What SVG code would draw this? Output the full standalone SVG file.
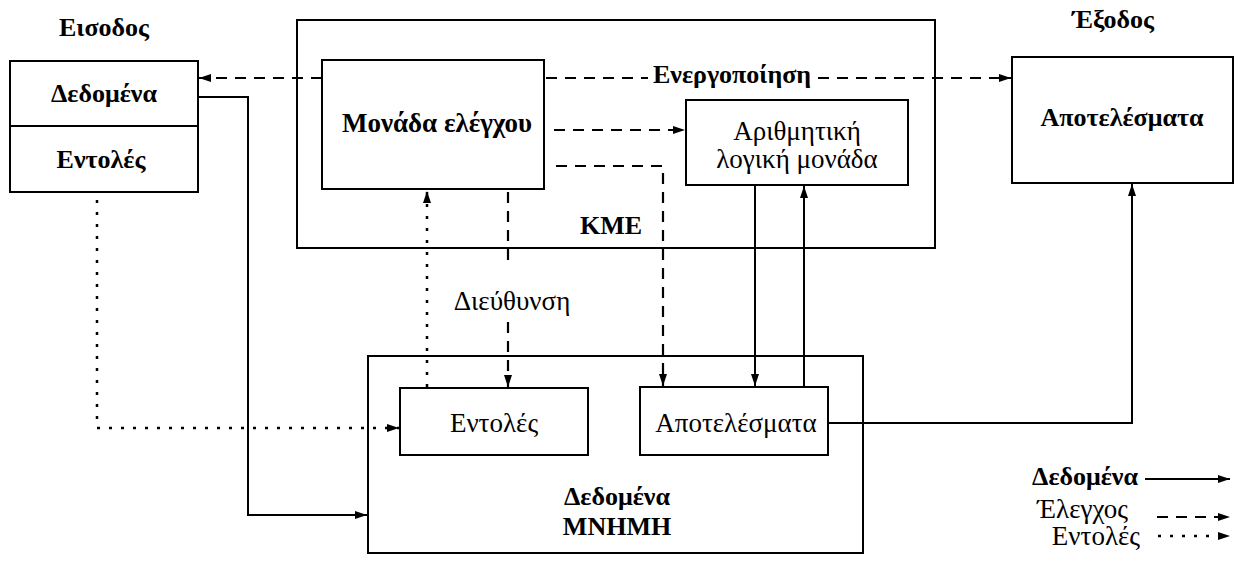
<svg xmlns="http://www.w3.org/2000/svg" width="1239" height="565" viewBox="0 0 1239 565">
<defs>
<marker id="ah" viewBox="0 0 12 8" refX="12" refY="4" markerWidth="12" markerHeight="8" markerUnits="userSpaceOnUse" orient="auto">
<path d="M0,0 L12,4 L0,8 Z" fill="#000"/>
</marker>
</defs>
<style>
.box{fill:#fff;stroke:#000;stroke-width:2}
.t{font-family:"Liberation Serif","DejaVu Serif",serif;font-size:27px;fill:#000;text-anchor:middle}
.b{font-weight:bold;font-size:26px}
.m{font-weight:600}
.solid{fill:none;stroke:#000;stroke-width:2}
.dash{fill:none;stroke:#000;stroke-width:2.2;stroke-dasharray:11 8}
.dot{fill:none;stroke:#000;stroke-width:2.5;stroke-dasharray:3 9}
</style>
<rect width="1239" height="565" fill="#fff"/>

<g id="kme">
<rect class="box" x="297" y="20" width="638" height="228"/>
<text class="t b" x="611" y="234">KME</text>
</g>
<g id="memory">
<rect class="box" x="368" y="356" width="495" height="197"/>
<text class="t b" x="617" y="505">Δεδομένα</text>
<text class="t b" x="617" y="535">ΜΝΗΜΗ</text>
</g>

<g id="input">
<text class="t b" x="104" y="36">Εισοδος</text>
<rect class="box" x="10" y="61" width="188" height="131"/>
<line x1="10" y1="126" x2="198" y2="126" stroke="#000" stroke-width="2"/>
<text class="t b" x="104" y="102">Δεδομένα</text>
<text class="t b" x="101" y="168">Εντολές</text>
</g>

<g id="control">
<rect class="box" x="322" y="60" width="222" height="129"/>
<text class="t m" x="437" y="132">Μονάδα ελέγχου</text>
</g>

<g id="alu">
<rect class="box" x="686" y="100" width="222" height="85"/>
<text class="t" x="797" y="140">Αριθμητική</text>
<text class="t" x="797" y="168">λογική μονάδα</text>
</g>

<g id="output">
<text class="t b" x="1113" y="28">Έξοδος</text>
<rect class="box" x="1012" y="57" width="221" height="126"/>
<text class="t b" x="1122" y="126">Αποτελέσματα</text>
</g>

<g id="mem-instr">
<rect class="box" x="400" y="388" width="188" height="67"/>
<text class="t" x="494" y="432">Εντολές</text>
</g>
<g id="mem-results">
<rect class="box" x="640" y="387" width="188" height="68"/>
<text class="t" x="736" y="432">Αποτελέσματα</text>
</g>

<g id="connectors">
<line class="dash" x1="322" y1="78" x2="199" y2="78" marker-end="url(#ah)"/>
<line class="dash" x1="546" y1="78" x2="648" y2="78"/>
<text class="t b" x="732" y="83">Ενεργοποίηση</text>
<line class="dash" x1="818" y1="78" x2="1011" y2="78" marker-end="url(#ah)"/>
<line class="dash" x1="554" y1="130" x2="685" y2="130" marker-end="url(#ah)"/>
<polyline class="dash" points="556,166 663,166 663,386" marker-end="url(#ah)"/>
<line class="dash" x1="508" y1="192" x2="508" y2="268"/>
<text class="t" x="512" y="310">Διεύθυνση</text>
<line class="dash" x1="508" y1="322" x2="508" y2="387" marker-end="url(#ah)"/>
<line class="dot" x1="427" y1="387" x2="427" y2="191" marker-end="url(#ah)"/>
<polyline class="dot" points="97,200 97,428 399,428" marker-end="url(#ah)"/>
<polyline class="solid" points="198,97 248,97 248,515 367,515" marker-end="url(#ah)"/>
<line class="solid" x1="755" y1="185" x2="755" y2="386" marker-end="url(#ah)"/>
<line class="solid" x1="804" y1="387" x2="804" y2="186" marker-end="url(#ah)"/>
<polyline class="solid" points="828,423 1132,423 1132,184" marker-end="url(#ah)"/>
</g>

<g id="legend">
<text class="t b" x="1138" y="485" style="text-anchor:end">Δεδομένα</text>
<line class="solid" x1="1145" y1="479" x2="1230" y2="479" marker-end="url(#ah)"/>
<text class="t" x="1128" y="518" style="text-anchor:end">Έλεγχος</text>
<line class="dash" x1="1157" y1="517" x2="1230" y2="517" marker-end="url(#ah)"/>
<text class="t" x="1140" y="545" style="text-anchor:end">Εντολές</text>
<line class="dot" x1="1158" y1="536" x2="1230" y2="536" marker-end="url(#ah)"/>
</g>
</svg>
